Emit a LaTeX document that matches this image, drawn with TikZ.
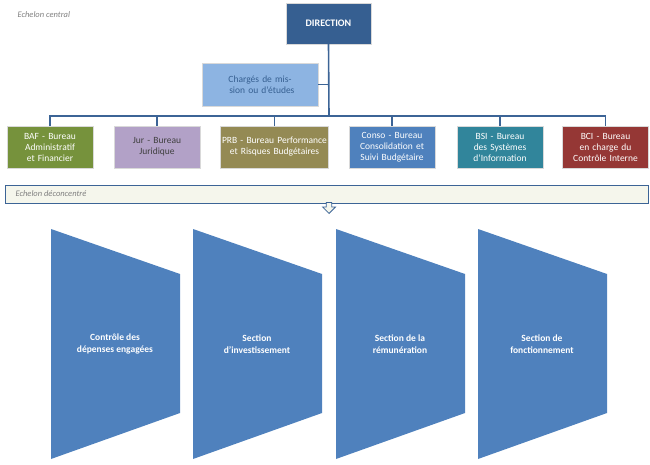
\documentclass[tikz,border=0pt]{standalone}
\usepackage{fontspec}
\setmainfont{Carlito}
\usetikzlibrary{positioning,shapes.arrows}
\definecolor{dirblue}{RGB}{54,95,145}
\definecolor{linkblue}{RGB}{60,100,150}
\definecolor{charge}{RGB}{141,180,226}
\definecolor{baf}{RGB}{118,146,60}
\definecolor{jur}{RGB}{178,161,199}
\definecolor{prb}{RGB}{148,138,84}
\definecolor{conso}{RGB}{79,129,189}
\definecolor{bsi}{RGB}{49,133,155}
\definecolor{bci}{RGB}{149,55,53}
\definecolor{trap}{RGB}{79,129,189}
\definecolor{creme}{RGB}{245,246,236}
\tikzset{
  bureau/.style={draw=white!85!black, minimum width=85pt, minimum height=42pt, inner sep=1pt,
    align=center, font=\fontsize{9.5}{11}\selectfont, text width=84pt},
  lien/.style={draw=linkblue, line width=1.6pt},
  echelon/.style={font=\itshape\fontsize{8.5}{10}\selectfont, text=gray},
}
\begin{document}
\begin{tikzpicture}[x=1pt,y=-1pt]
\useasboundingbox (0,0) rectangle (650,465);

% echelon central
\node[echelon, anchor=west] (ec) at (14,15) {Echelon central};
\node[bureau, fill=dirblue, text=white, font=\bfseries\fontsize{10}{12}\selectfont, minimum width=85pt, text width=80pt, minimum height=41pt] (dir) at (328.5,23.5) {DIRECTION};
\node[bureau, fill=charge, text=dirblue, minimum width=116pt, text width=112pt, minimum height=43pt] (cm) at (260,84.5) {Chargés de mission ou d'étude\rlap{s}};
\coordinate (bar) at (329,116);

% bureaux
\node[bureau, fill=baf, text=white] (baf) at (50,147) {BAF - Bureau Administratif et Financier};
\node[bureau, fill=jur, text=black!75] (jur) at (157,147) {Jur - Bureau Juridique};
\node[bureau, fill=prb, text=white, minimum width=107pt, text width=106pt] (prb) at (274.5,147) {PRB - Bureau Performance et Risques Budgétaires};
\node[bureau, fill=conso, text=white] (conso) at (392,147) {Conso - Bureau Consolidation et Suivi Budgétaire};
\node[bureau, fill=bsi, text=white] (bsi) at (500,147) {BSI - Bureau des Systèmes d'Information};
\node[bureau, fill=bci, text=white] (bci) at (605.5,147) {BCI - Bureau en charge du Contrôle Interne};

% liens
\draw[lien] (dir.south) -- (bar);
\draw[lien] (cm.east) -- (cm.east -| bar);
\draw[lien] (baf.north) |- (bar) -| (bci.north);
\foreach \b in {jur,prb,conso,bsi}{\draw[lien] (\b.north) -- (\b.north |- bar);}

% echelon deconcentre
\node[draw=linkblue, line width=1.2pt, fill=creme, minimum width=643pt, minimum height=18pt, anchor=north west, inner sep=0pt] (band) at (5,185) {};
\node[echelon, anchor=west] (ed) at (12,194) {Echelon déconcentré};
\node[single arrow, shape border rotate=270, draw=linkblue, fill=creme, line width=0.8pt, minimum height=11pt, minimum width=13pt, single arrow head extend=2pt, inner sep=1pt, anchor=tip] (fl) at (329,214) {};

% sections
\foreach \x/\txt [count=\i] in {51/{Contrôle des\\dépenses engagées},193/{Section\\d'investissement},336/{Section de la\\rémunération},478/{Section de\\fonctionnement}}{
  \fill[trap] (\x,229) -- (\x+129,274) -- (\x+129,413) -- (\x,459) -- cycle;
  \node[text=white, font=\bfseries\fontsize{9.5}{11.5}\selectfont, align=center] (s\i) at (\x+64,344) {\txt};
}
\end{tikzpicture}
\end{document}
